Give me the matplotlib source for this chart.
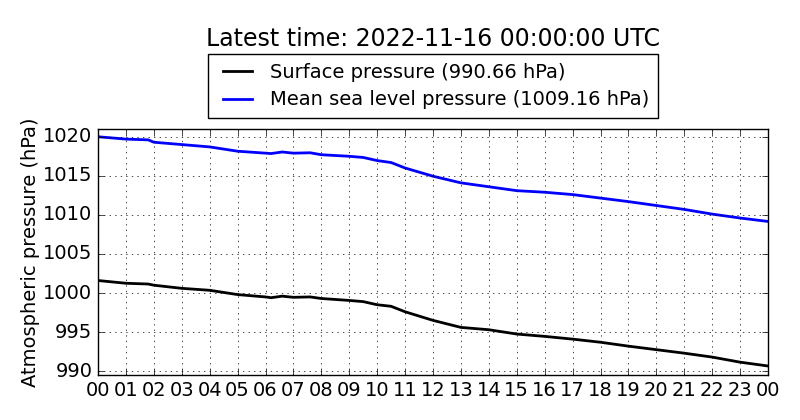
import matplotlib
matplotlib.use("Agg")
import matplotlib.pyplot as plt

# hours since 2022-11-15 00:00 UTC
hours = [0, 1, 1.8, 2, 3, 4, 5, 6, 6.2, 6.6, 7, 7.6, 8, 9, 9.5, 10, 10.5,
         11, 12, 13, 14, 15, 16, 17, 18, 19, 20, 21, 22, 23, 24]
surface = [1001.6, 1001.25, 1001.15, 1001.0, 1000.6, 1000.35, 999.8, 999.5,
           999.4, 999.6, 999.45, 999.5, 999.3, 999.05, 998.9, 998.5, 998.3,
           997.6, 996.5, 995.6, 995.3, 994.75, 994.45, 994.1, 993.7, 993.2,
           992.75, 992.3, 991.8, 991.15, 990.66]
msl = [1020.0, 1019.7, 1019.6, 1019.3, 1019.0, 1018.7, 1018.15, 1017.9,
       1017.85, 1018.05, 1017.9, 1017.95, 1017.7, 1017.5, 1017.35, 1016.95,
       1016.7, 1016.0, 1014.95, 1014.1, 1013.6, 1013.1, 1012.9, 1012.6,
       1012.15, 1011.7, 1011.2, 1010.7, 1010.1, 1009.6, 1009.16]
tick_hours = list(range(0, 25))
tick_labels = ["%02d" % (h % 24) for h in tick_hours]
title = "Latest time: 2022-11-16 00:00:00 UTC"

plt.style.use("classic")
plt.rcParams["font.family"] = "DejaVu Sans"
plt.rcParams["axes.formatter.useoffset"] = False

fig = plt.figure(figsize=(8, 4.2), dpi=100, facecolor="white")
ax = fig.add_axes([0.1225, 0.107, 0.8375, 0.586])

ax.plot(hours, surface, color="black", lw=2,
        label="Surface pressure (%.2f hPa)" % surface[-1])
ax.plot(hours, msl, color="blue", lw=2,
        label="Mean sea level pressure (%.2f hPa)" % msl[-1])

ax.set_xlim(0, 24)
ax.set_ylim(989.5, 1021)
ax.set_xticks(tick_hours)
ax.set_xticklabels(tick_labels)
ax.set_yticks(range(990, 1021, 5))
ax.tick_params(labelsize=14)
ax.grid(True, color="black", linestyle=":")
ax.set_ylabel("Atmospheric pressure (hPa)", fontsize=14, labelpad=2)

leg = ax.legend(loc="lower center", bbox_to_anchor=(0.5, 1.02), fontsize=14,
                frameon=True, fancybox=False, borderaxespad=0.3,
                handlelength=2.1, handletextpad=0.6, borderpad=0.45,
                labelspacing=0.45)
ax.set_title(title, fontsize=17, y=1.31)

fig.savefig("out.png", dpi=100, facecolor="white")
